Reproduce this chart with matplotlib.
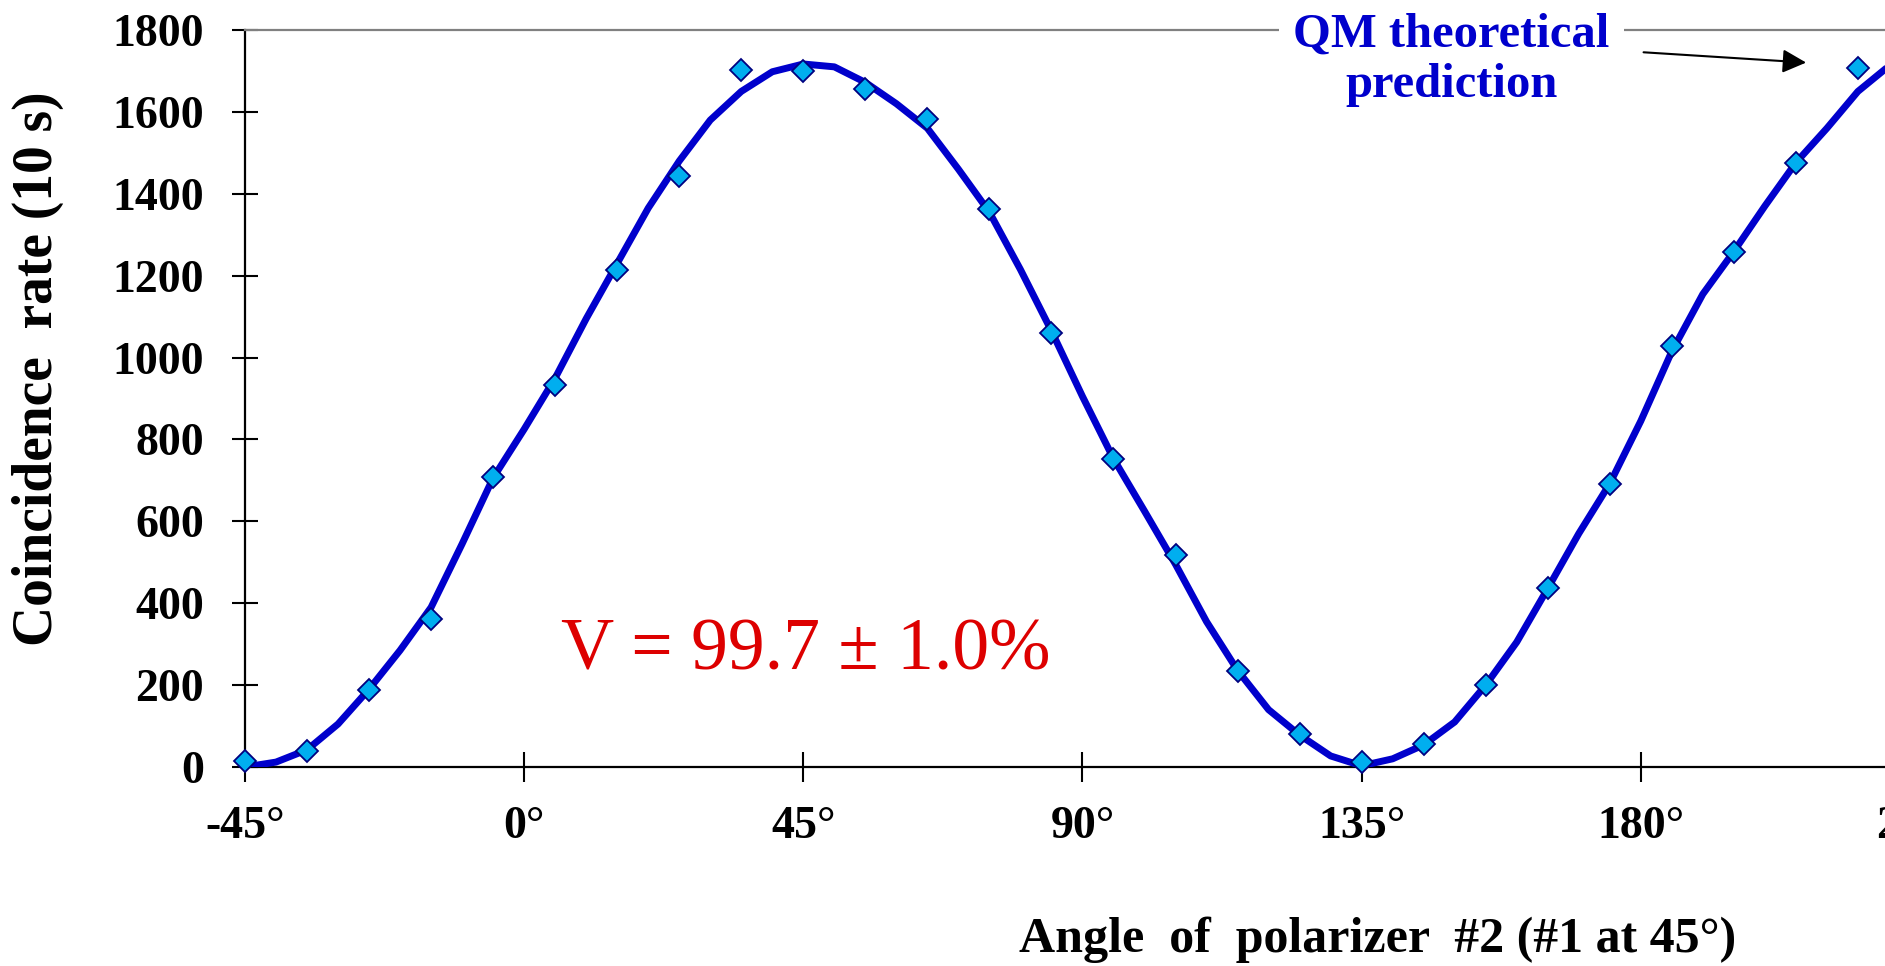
import numpy as np
import matplotlib.pyplot as plt

# Measured coincidence counts (10 s) against the angle of polarizer #2
angles = [-45, -35, -25, -15, -5, 5, 15, 25, 35, 45, 55, 65, 75, 85,
          95, 105, 115, 125, 135, 145, 155, 165, 175, 185, 195, 205, 215]
counts = [15, 39, 187, 361, 709, 933, 1213, 1444, 1702, 1700, 1655, 1583, 1364, 1059,
          753, 517, 235, 81, 12, 56, 200, 436, 692, 1028, 1259, 1476, 1707]

# QM theoretical prediction curve, every 5 degrees
curve_angles = [-45, -40, -35, -30, -25, -20, -15, -10, -5, 0, 5, 10, 15, 20, 25, 30, 35, 40,
                45, 50, 55, 60, 65, 70, 75, 80, 85, 90, 95, 100, 105, 110, 115, 120, 125, 130,
                135, 140, 145, 150, 155, 160, 165, 170, 175, 180, 185, 190, 195, 200, 205, 210,
                215, 220]
curve_counts = [0, 12, 42, 105, 190, 285, 390, 545, 706, 825, 950, 1095, 1230, 1365, 1480, 1580,
                1650, 1698, 1717, 1710, 1672, 1620, 1560, 1460, 1355, 1215, 1065, 905, 753, 625,
                495, 355, 236, 140, 78, 27, 3, 20, 54, 110, 200, 305, 436, 570, 692, 845, 1015,
                1155, 1259, 1370, 1476, 1560, 1650, 1712]

x_ticks = [-45, 0, 45, 90, 135, 180, 225]
x_tick_labels = ["-45°", "0°", "45°", "90°", "135°", "180°", "225°"]
y_ticks = [0, 200, 400, 600, 800, 1000, 1200, 1400, 1600, 1800]

SERIF = "Liberation Serif"

fig = plt.figure(figsize=(18.85, 9.66), dpi=100)
# the axes run past the right edge of the figure, like the cropped original
ax = fig.add_axes([245 / 1885, 199 / 966, (2013 - 245) / 1885, 737 / 966])
ax.set_xlim(-45, 240)
ax.set_ylim(0, 1800)

# theory curve and data points
ax.plot(curve_angles, curve_counts, color="#0000cc", linewidth=5, zorder=3,
        solid_joinstyle="round", solid_capstyle="round")
ax.plot(angles, counts, linestyle="none", marker="D", markersize=11,
        markerfacecolor="#00aeef", markeredgecolor="#000080", markeredgewidth=1.3,
        zorder=4, clip_on=False)

# spines
ax.spines["top"].set_color("#808080")
ax.spines["top"].set_linewidth(1.6)
ax.spines["right"].set_visible(False)
for side in ["left", "bottom"]:
    ax.spines[side].set_color("black")
    ax.spines[side].set_linewidth(1.6)

ax.set_xticks(x_ticks)
ax.set_xticklabels(x_tick_labels)
ax.set_yticks(y_ticks)
ax.tick_params(axis="x", direction="inout", length=21.6, width=1.5, pad=17)
ax.tick_params(axis="y", direction="inout", length=19, width=1.5, pad=20)
for lab in ax.get_xticklabels() + ax.get_yticklabels():
    lab.set_fontfamily(SERIF)
    lab.set_fontweight("bold")
    lab.set_fontsize(33)

# axis titles
fig.text(38 / 1885, 1 - 369 / 966, "Coincidence  rate (10 s)", rotation=90,
         ha="center", va="center", fontsize=40, fontweight="bold", family=SERIF)
fig.text(1378 / 1885, 1 - 940 / 966, "Angle  of  polarizer  #2 (#1 at 45°)",
         ha="center", va="center", fontsize=36, fontweight="bold", family=SERIF)

# visibility
ax.text(5.9, 237, "V = 99.7 ± 1.0%", ha="left", va="baseline", fontsize=53,
        color="#dd0000", family=SERIF, zorder=5)

# QM prediction label with arrow
ax.text(149.5, 1727, "QM theoretical\nprediction", ha="center", va="center",
        fontsize=35, fontweight="bold", color="#0000cc", family=SERIF,
        linespacing=1.2, clip_on=False, zorder=5,
        bbox=dict(boxstyle="square,pad=0.3", facecolor="white", edgecolor="none"))
ax.annotate("", xy=(207.1, 1720), xytext=(180, 1746),
            arrowprops=dict(arrowstyle="-|>", color="black", lw=1.5, mutation_scale=36))

fig.savefig("out.png", dpi=100)
